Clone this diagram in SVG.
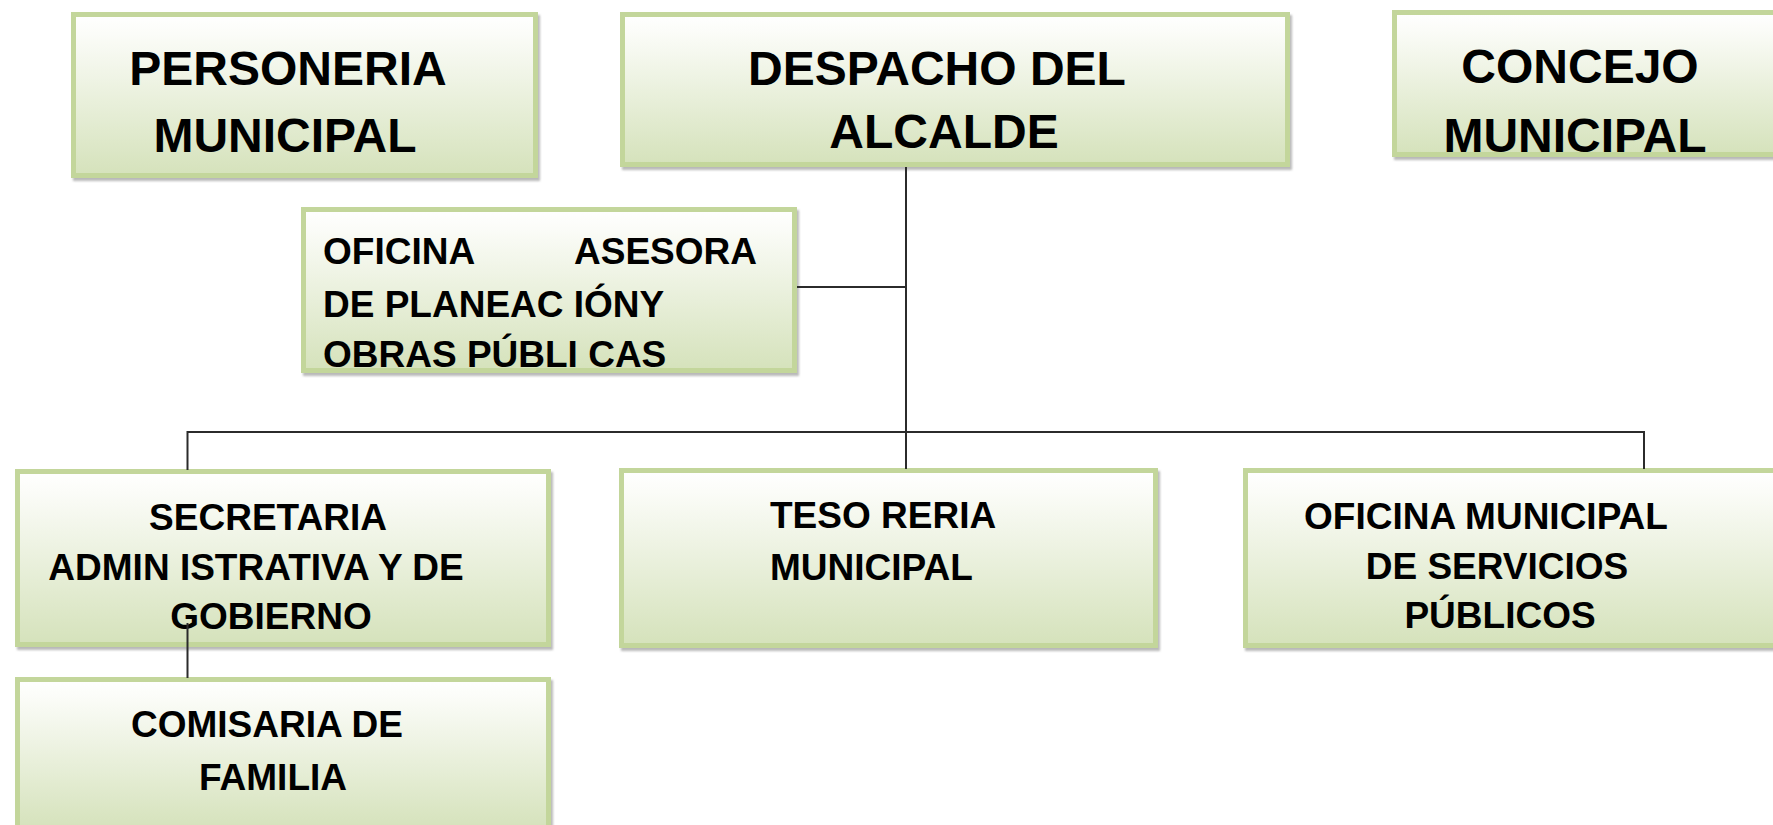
<svg xmlns="http://www.w3.org/2000/svg" width="1773" height="825" viewBox="0 0 1773 825">
<defs>
<linearGradient id="g" x1="0" y1="0" x2="0" y2="1">
<stop offset="0" stop-color="#ffffff"/>
<stop offset="0.12" stop-color="#fbfcf8"/>
<stop offset="1" stop-color="#d5e2bb"/>
</linearGradient>
<filter id="sh" x="-5%" y="-5%" width="110%" height="115%">
<feDropShadow dx="2" dy="3" stdDeviation="1" flood-color="#7f7f7f" flood-opacity="0.55"/>
</filter>
</defs>
<style>
.box{fill:url(#g);stroke:#c3d69b;stroke-width:5;filter:url(#sh)}
.big{font-family:"Liberation Sans",Arial,sans-serif;font-weight:bold;font-size:48px;fill:#000}
.sm{font-family:"Liberation Sans",Arial,sans-serif;font-weight:bold;font-size:37px;fill:#000}
.c{text-anchor:middle}
.e{text-anchor:end}
.ln{fill:none;stroke:#2b2b2b;stroke-width:2}
</style>
<rect width="1773" height="825" fill="#ffffff"/>
<g id="personeria">
<rect class="box" x="73.5" y="14.5" width="462" height="161"/>
<text class="big c" x="288" y="85">PERSONERIA</text>
<text class="big c" x="285" y="152">MUNICIPAL</text>
</g>
<g id="despacho">
<rect class="box" x="622.5" y="14.5" width="665" height="150"/>
<text class="big c" x="937" y="85">DESPACHO DEL</text>
<text class="big c" x="944" y="148">ALCALDE</text>
</g>
<g id="concejo">
<rect class="box" x="1394.5" y="12.5" width="390" height="142"/>
<text class="big c" x="1580" y="83">CONCEJO</text>
<text class="big c" x="1575" y="152">MUNICIPAL</text>
</g>
<g id="oficina-asesora">
<rect class="box" x="303.5" y="209.5" width="491" height="161"/>
<text class="sm" x="323" y="264">OFICINA</text>
<text class="sm e" x="757" y="264">ASESORA</text>
<text class="sm" x="323" y="317">DE PLANEAC IÓNY</text>
<text class="sm" x="323" y="367">OBRAS PÚBLI CAS</text>
</g>
<g id="secretaria">
<rect class="box" x="17.5" y="471.5" width="531" height="173"/>
<text class="sm c" x="268" y="530">SECRETARIA</text>
<text class="sm c" x="256" y="580">ADMIN ISTRATIVA Y DE</text>
<text class="sm c" x="271" y="629">GOBIERNO</text>
</g>
<g id="tesoreria">
<rect class="box" x="621.5" y="470.5" width="534" height="175"/>
<text class="sm" x="770" y="528">TESO RERIA</text>
<text class="sm" x="770" y="580">MUNICIPAL</text>
</g>
<g id="oficina-servicios">
<rect class="box" x="1245.5" y="470.5" width="540" height="175"/>
<text class="sm c" x="1486" y="529">OFICINA MUNICIPAL</text>
<text class="sm c" x="1497" y="579">DE SERVICIOS</text>
<text class="sm c" x="1500" y="628">PÚBLICOS</text>
</g>
<g id="comisaria">
<rect class="box" x="17.5" y="679.5" width="531" height="150"/>
<text class="sm c" x="267" y="737">COMISARIA DE</text>
<text class="sm c" x="273" y="790">FAMILIA</text>
</g>
<g id="connectors">
<path class="ln" d="M906 167 V469"/>
<path class="ln" d="M797 287 H906"/>
<path class="ln" d="M187.5 432 H1644"/>
<path class="ln" d="M187.5 431 V470"/>
<path class="ln" d="M1644 431 V469"/>
<path class="ln" d="M187.5 623 V678"/>
</g>
</svg>
